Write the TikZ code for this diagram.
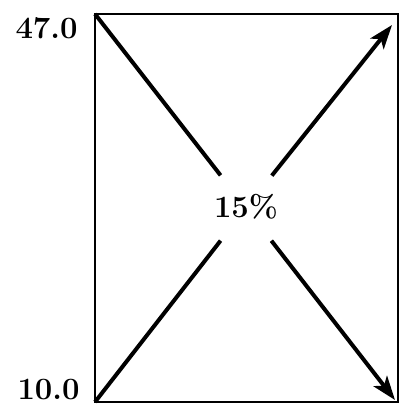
\documentclass[tikz,border=0pt]{standalone}
\usepackage{tikz}
\usetikzlibrary{arrows.meta,positioning}

\begin{document}
\begin{tikzpicture}[x=0.5pt,y=-0.5pt,
  axislabel/.style={anchor=east, inner sep=0pt, font=\fontsize{15.5}{18}\selectfont\bfseries},
  diag/.style={line width=2pt},
  diagarrow/.style={diag, -{Stealth[length=12pt,width=8.5pt,inset=3pt]}}]
\useasboundingbox (0,0) rectangle (402,406);
% frame
\coordinate (tl) at (95,14);
\coordinate (br) at (398,402);
\draw[line width=1.3pt] (tl) rectangle (br);
\coordinate (bl) at (95,402);
\coordinate (tiptr) at (392,25);
\coordinate (tipbr) at (395,400);
% labels
\node[axislabel] (top) at (78,28) {47.0};
\node[axislabel] (bot) at (80,390) {10.0};
\node[circle, inner sep=0pt, minimum size=41pt,
  font=\fontsize{15.5}{18}\selectfont\bfseries] (pct) at (246,208) {\raisebox{2pt}{15\%}};
% diagonals
\draw[diag] (tl) -- (pct);
\draw[diagarrow] (pct) -- (tipbr);
\draw[diag] (bl) -- (pct);
\draw[diagarrow] (pct) -- (tiptr);
\end{tikzpicture}
\end{document}
